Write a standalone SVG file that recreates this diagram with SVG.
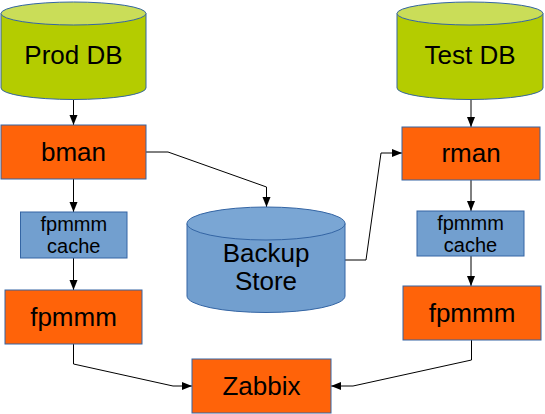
<svg xmlns="http://www.w3.org/2000/svg" width="545" height="414" viewBox="0 0 545 414">
<defs>
<marker id="arr" markerUnits="userSpaceOnUse" markerWidth="11" markerHeight="9" refX="10" refY="4" orient="auto">
<path d="M0,0 L10,4 L0,8 Z" fill="#000"/>
</marker>
<style>
.box{stroke:#3465a4;stroke-width:1}
.orange{fill:#ff6309}
.blue{fill:#729fcf}
.green{fill:#b4cc00}
.greentop{fill:#cadd58}
.bluetop{fill:#7aa6d4}
.t{font-family:"Liberation Sans",Arial,sans-serif;font-size:26px;fill:#000;text-anchor:middle}
.s{font-family:"Liberation Sans",Arial,sans-serif;font-size:20px;fill:#000;text-anchor:middle}
.c{fill:none;stroke:#000;stroke-width:1;marker-end:url(#arr)}
</style>
</defs>
<rect width="545" height="414" fill="#fff"/>
<g id="connectors">
<path class="c" d="M73.5,99.5 L73.5,125"/>
<path class="c" d="M73.5,179 L73.5,212"/>
<path class="c" d="M73.5,258 L73.5,290"/>
<path class="c" d="M73.5,344 L73.5,364 L173,386 L192,386"/>
<path class="c" d="M146,152 L168,152 L266.5,187 L266.5,207"/>
<path class="c" d="M345,260 L366,260 L381,153 L402,153"/>
<path class="c" d="M471,99.5 L471,127"/>
<path class="c" d="M471,180 L471,211"/>
<path class="c" d="M471,256 L471,286"/>
<path class="c" d="M471.5,340 L471.5,360 L353,386 L331,386"/>
</g>
<g id="prod-db">
<path class="box green" d="M1,13.5 L1,88 A72.5,11.5 0 0 0 146,88 L146,13.5 Z"/>
<ellipse class="box greentop" cx="73.5" cy="13.5" rx="72.5" ry="11.5"/>
<text class="t" x="73.5" y="64">Prod DB</text>
</g>
<g id="test-db">
<path class="box green" d="M397,13.5 L397,88 A73,11.5 0 0 0 543,88 L543,13.5 Z"/>
<ellipse class="box greentop" cx="470" cy="13.5" rx="73" ry="11.5"/>
<text class="t" x="470" y="64">Test DB</text>
</g>
<g id="bman">
<rect class="box orange" x="1" y="125" width="145" height="54"/>
<text class="t" x="73.5" y="161">bman</text>
</g>
<g id="rman">
<rect class="box orange" x="402" y="127" width="138" height="53"/>
<text class="t" x="471" y="162">rman</text>
</g>
<g id="backup-store">
<path class="box blue" d="M187,223.5 L187,296 A79,16.5 0 0 0 345,296 L345,223.5 Z"/>
<ellipse class="box bluetop" cx="266" cy="223.5" rx="79" ry="16.5"/>
<text class="t" x="266" y="262">Backup</text>
<text class="t" x="266" y="290">Store</text>
</g>
<g id="cache-left">
<rect class="box blue" x="20.5" y="212" width="106.5" height="46"/>
<text class="s" x="73.8" y="231">fpmmm</text>
<text class="s" x="73.8" y="253">cache</text>
</g>
<g id="cache-right">
<rect class="box blue" x="417" y="211" width="107" height="45"/>
<text class="s" x="470.5" y="229.5">fpmmm</text>
<text class="s" x="470.5" y="251.5">cache</text>
</g>
<g id="fpmmm-left">
<rect class="box orange" x="5" y="290" width="137" height="54"/>
<text class="t" x="73.5" y="326">fpmmm</text>
</g>
<g id="fpmmm-right">
<rect class="box orange" x="403" y="286" width="138" height="54"/>
<text class="t" x="472" y="322">fpmmm</text>
</g>
<g id="zabbix">
<rect class="box orange" x="192" y="359" width="139" height="54"/>
<text class="t" x="261.5" y="395">Zabbix</text>
</g>
</svg>
